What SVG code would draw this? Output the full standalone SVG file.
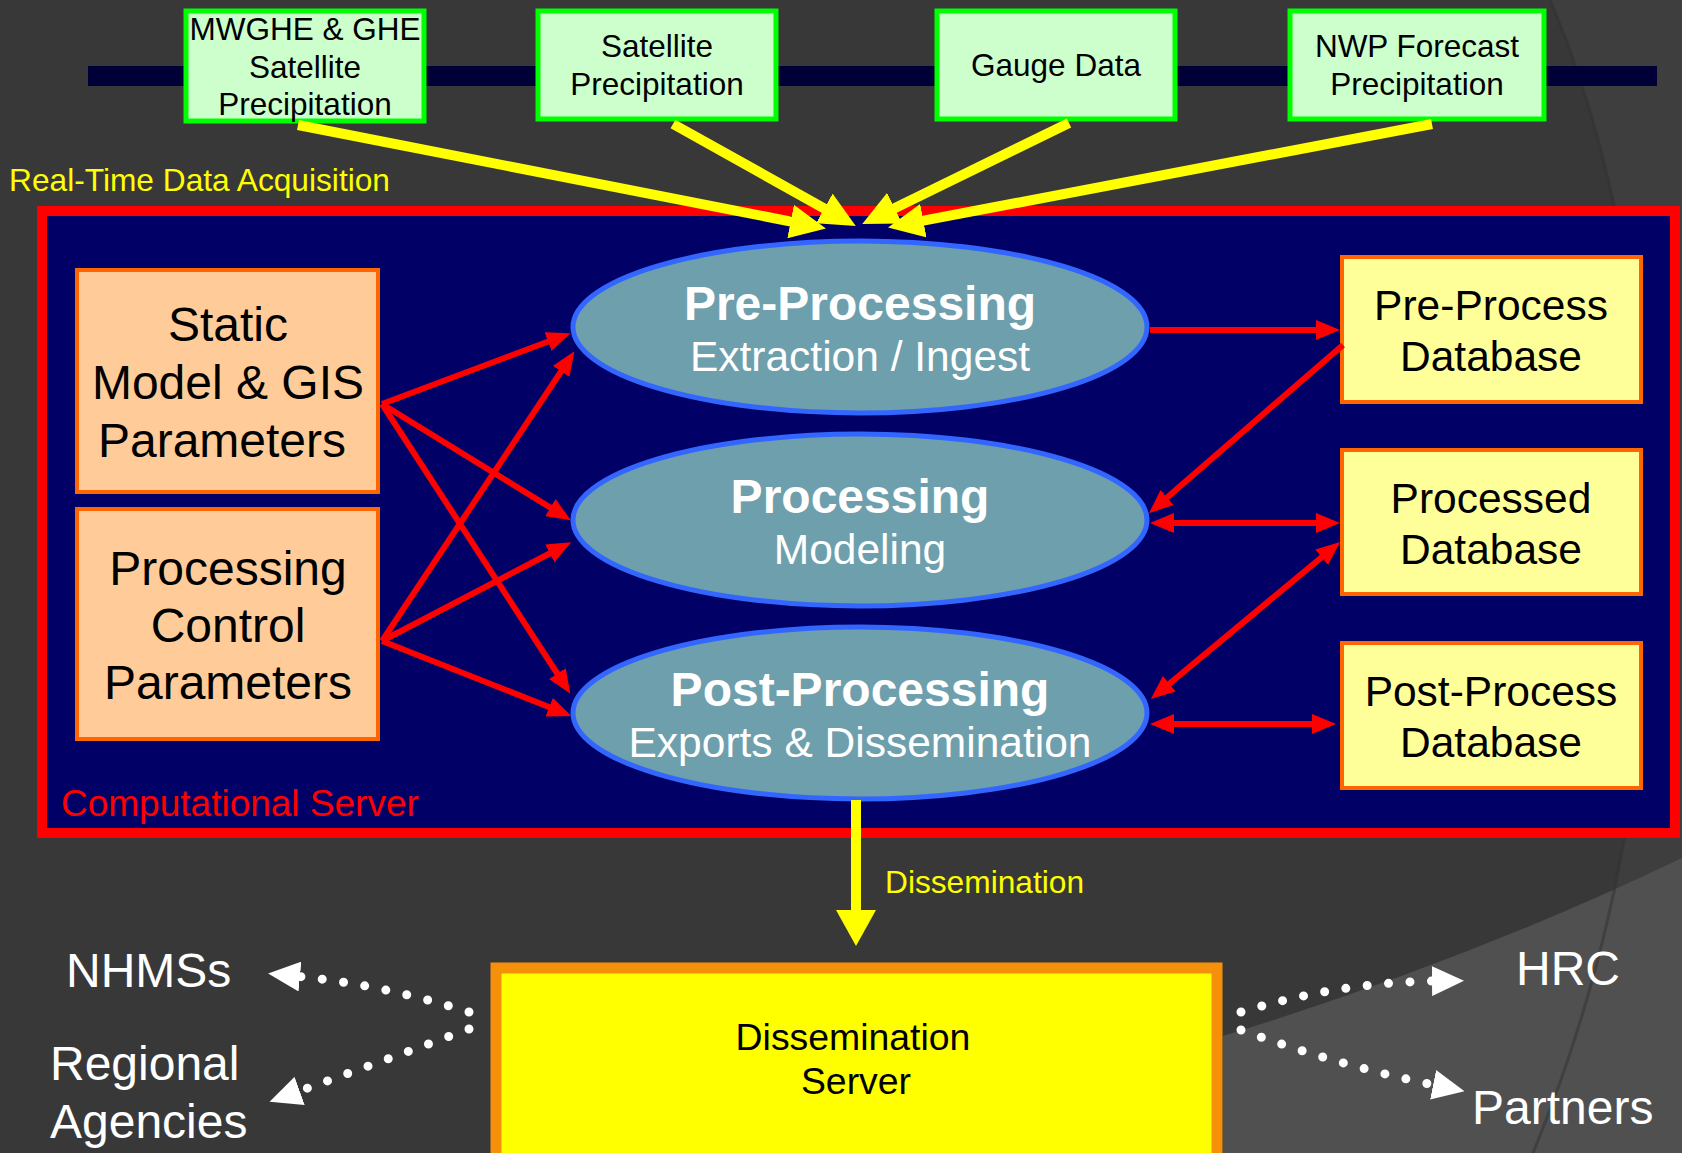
<svg xmlns="http://www.w3.org/2000/svg" width="1682" height="1153" viewBox="0 0 1682 1153">
<defs>
<style>
text{font-family:"Liberation Sans",Arial,sans-serif}
.src rect{fill:#ccffcc;stroke:#00ff00;stroke-width:5}
.src text{font-size:31.5px;fill:#000;text-anchor:middle}
.par rect{fill:#ffcc99;stroke:#ff6600;stroke-width:4}
.par text{font-size:48px;fill:#000;text-anchor:middle}
.proc ellipse{fill:#6e9fad;stroke:#3366ff;stroke-width:5}
.proc .t1{font-size:48px;font-weight:bold;fill:#fff;text-anchor:middle}
.proc .t2{font-size:42.5px;fill:#fff;text-anchor:middle}
.db rect{fill:#ffff99;stroke:#ff6600;stroke-width:4}
.db text{font-size:42.5px;fill:#000;text-anchor:middle}
.red{stroke:#ff0000;stroke-width:6;fill:none;marker-end:url(#ra)}
.red2{stroke:#ff0000;stroke-width:6;fill:none;marker-end:url(#ra);marker-start:url(#ra)}
.yel{stroke:#ffff00;stroke-width:10;fill:none;marker-end:url(#ya)}
.dot{stroke:#fff;stroke-width:9;fill:none;stroke-linecap:round;stroke-dasharray:0 21.5;marker-end:url(#wa)}
.lab{font-size:48px;fill:#fff}
</style>
<marker id="ra" viewBox="0 0 24 20" refX="16" refY="10" markerWidth="24" markerHeight="20" markerUnits="userSpaceOnUse" orient="auto-start-reverse"><path d="M0,0 L24,10 L0,20 z" fill="#ff0000"/></marker>
<marker id="ya" viewBox="0 0 36 34" refX="12" refY="17" markerWidth="36" markerHeight="34" markerUnits="userSpaceOnUse" orient="auto"><path d="M0,0 L36,17 L0,34 z" fill="#ffff00"/></marker>
<marker id="yb" viewBox="0 0 36 40" refX="12" refY="20" markerWidth="36" markerHeight="40" markerUnits="userSpaceOnUse" orient="auto"><path d="M0,0 L36,20 L0,40 z" fill="#ffff00"/></marker>
<marker id="wa" viewBox="0 0 32 30" refX="6" refY="15" markerWidth="32" markerHeight="30" markerUnits="userSpaceOnUse" orient="auto"><path d="M0,0 L32,15 L0,30 z" fill="#ffffff"/></marker>
</defs>
<g id="background">
<rect x="0" y="0" width="1682" height="1153" fill="#383838"/>
<path d="M1550,0 C1650,230 1720,700 1533,1153 L1682,1153 L1682,0 z" fill="#3e3e3e"/>
<path d="M1223,1036 Q1470,960 1682,858 L1682,1153 L1223,1153 z" fill="#505050"/>
<path d="M1550,0 C1650,230 1720,700 1533,1153" fill="none" stroke="#2f2f2f" stroke-width="3" opacity="0.5"/>
<rect x="88" y="66" width="1569" height="20" fill="#000036"/>
</g>
<g id="computational-server">
<rect x="42" y="211" width="1633" height="622" fill="#000066" stroke="#ff0000" stroke-width="10"/>
<text x="61" y="816" font-size="37" fill="#ff0000">Computational Server</text>
</g>
<text x="9" y="191" font-size="31.7" fill="#ffff00">Real-Time Data Acquisition</text>
<g id="src-mwghe" class="src"><rect x="186" y="11" width="238" height="110"/><text x="305" y="40" font-size="32">MWGHE &amp; GHE</text><text x="305" y="78">Satellite</text><text x="305" y="115">Precipitation</text></g>
<g id="src-satellite" class="src"><rect x="538" y="11" width="238" height="108"/><text x="657" y="57">Satellite</text><text x="657" y="95">Precipitation</text></g>
<g id="src-gauge" class="src"><rect x="937" y="11" width="238" height="108"/><text x="1056" y="76">Gauge Data</text></g>
<g id="src-nwp" class="src"><rect x="1290" y="11" width="254" height="108"/><text x="1417" y="57">NWP Forecast</text><text x="1417" y="95">Precipitation</text></g>
<g id="static-params" class="par"><rect x="77" y="270" width="301" height="222"/><text x="228" y="341">Static</text><text x="228" y="399">Model &amp; GIS</text><text x="222" y="457">Parameters</text></g>
<g id="control-params" class="par"><rect x="77" y="509" width="301" height="230"/><text x="228" y="585">Processing</text><text x="228" y="642">Control</text><text x="228" y="699">Parameters</text></g>
<g id="pre-processing" class="proc"><ellipse cx="860" cy="327" rx="287" ry="86"/><text class="t1" x="860" y="320">Pre-Processing</text><text class="t2" x="860" y="371">Extraction / Ingest</text></g>
<g id="processing" class="proc"><ellipse cx="860" cy="520" rx="287" ry="86"/><text class="t1" x="860" y="513">Processing</text><text class="t2" x="860" y="564">Modeling</text></g>
<g id="post-processing" class="proc"><ellipse cx="860" cy="713" rx="287" ry="86"/><text class="t1" x="860" y="706">Post-Processing</text><text class="t2" x="860" y="757">Exports &amp; Dissemination</text></g>
<g id="db-pre" class="db"><rect x="1342" y="257" width="299" height="145"/><text x="1491" y="320">Pre-Process</text><text x="1491" y="371">Database</text></g>
<g id="db-processed" class="db"><rect x="1342" y="450" width="299" height="144"/><text x="1491" y="513">Processed</text><text x="1491" y="564">Database</text></g>
<g id="db-post" class="db"><rect x="1342" y="643" width="299" height="145"/><text x="1491" y="706">Post-Process</text><text x="1491" y="757">Database</text></g>
<g id="dissemination-server">
<rect x="496" y="968" width="721" height="200" fill="#ffff00" stroke="#f5900b" stroke-width="11"/>
<text x="853" y="1050" font-size="37.4" text-anchor="middle" fill="#000">Dissemination</text>
<text x="856" y="1094" font-size="37.4" text-anchor="middle" fill="#000">Server</text>
</g>
<g id="targets">
<text class="lab" x="66" y="987">NHMSs</text>
<text class="lab" x="50" y="1080">Regional</text>
<text class="lab" x="50" y="1138">Agencies</text>
<text class="lab" x="1516" y="985">HRC</text>
<text class="lab" x="1472" y="1124">Partners</text>
</g>
<g id="connectors">
<line class="yel" x1="298" y1="125" x2="802.4" y2="223.8"/>
<line class="yel" x1="673" y1="124" x2="834.8" y2="214.3"/>
<line class="yel" x1="1069" y1="123" x2="883.8" y2="213.4"/>
<line class="yel" x1="1432" y1="124" x2="911.6" y2="222.9"/>
<line x1="382" y1="404" x2="563" y2="336" class="red"/>
<line x1="382" y1="404" x2="564" y2="516" class="red"/>
<line x1="382" y1="404" x2="566" y2="687" class="red"/>
<line x1="382" y1="641" x2="570" y2="358" class="red"/>
<line x1="382" y1="641" x2="564" y2="546" class="red"/>
<line x1="382" y1="641" x2="564" y2="713" class="red"/>
<line x1="1150" y1="330" x2="1332" y2="330" class="red"/>
<line x1="1343" y1="345" x2="1155" y2="508" class="red"/>
<line x1="1158" y1="523" x2="1332" y2="523" class="red2"/>
<line x1="1157" y1="694" x2="1334" y2="547" class="red2"/>
<line x1="1158" y1="724" x2="1328" y2="724" class="red2"/>
<line x1="856" y1="800" x2="856" y2="922" stroke="#ffff00" stroke-width="10" marker-end="url(#yb)"/>
<text x="885" y="893" font-size="31.7" fill="#ffff00">Dissemination</text>
<path class="dot" d="M469,1012 Q380,984 294,976"/>
<path class="dot" d="M469,1029 Q380,1062 294,1093"/>
<path class="dot" d="M1241,1012 Q1340,982 1438,981"/>
<path class="dot" d="M1241,1030 Q1340,1066 1439,1086"/>
</g>
</svg>
